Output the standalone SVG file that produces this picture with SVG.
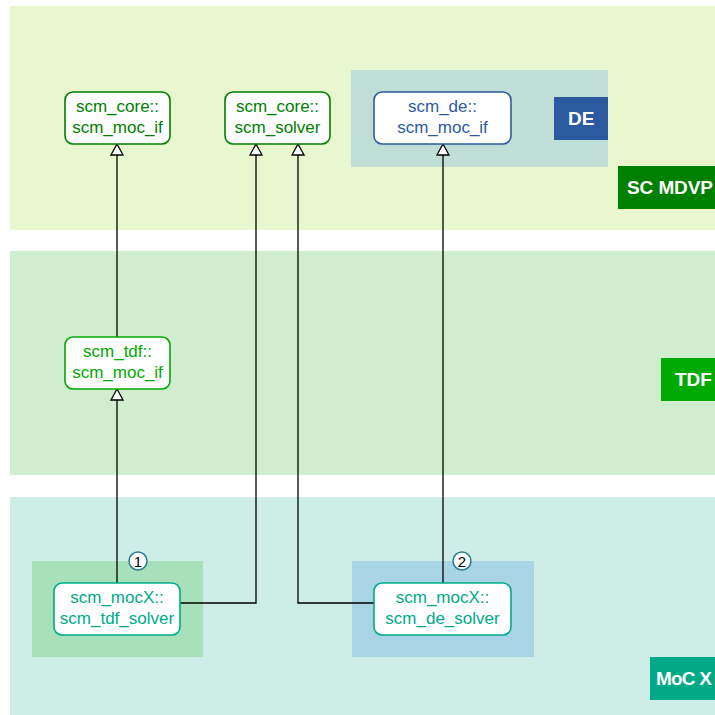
<svg xmlns="http://www.w3.org/2000/svg" width="715" height="715" viewBox="0 0 715 715">
<defs>
<style>
.t{font-family:"Liberation Sans",Arial,sans-serif;font-size:17px;text-anchor:middle}
.lbl{font-family:"Liberation Sans",Arial,sans-serif;font-size:19px;font-weight:bold;fill:#fff}
.node{fill:#fff;stroke-width:1.6}
.c{fill:none;stroke:#000;stroke-width:1.3}
.badge circle{fill:#fff;stroke:#2c7f99;stroke-width:1.5}
.badge text{font-family:"Liberation Sans",Arial,sans-serif;font-size:15px;fill:#000;text-anchor:middle}
</style>
<marker id="tri" markerWidth="14" markerHeight="14" refX="12.5" refY="7" orient="auto" markerUnits="userSpaceOnUse" viewBox="0 0 14 14">
<path d="M12.5,7 L1.5,13 L1.5,1 Z" fill="#fff" stroke="#000" stroke-width="1.3"/>
</marker>
</defs>
<rect width="715" height="715" fill="#fff"/>
<g id="bands">
<rect x="10" y="6" width="705" height="224" fill="#e8f7cd"/>
<rect x="10" y="251" width="705" height="224" fill="#d0edd0"/>
<rect x="10" y="497" width="705" height="218" fill="#cdeee6"/>
<rect x="351" y="70" width="257" height="97" fill="#bfded5"/>
<rect x="32" y="561" width="171" height="96" fill="#a8e0bc"/>
<rect x="352" y="561" width="182" height="96" fill="#a8d4e6"/>
</g>
<g id="labels">
<rect x="554" y="97" width="54" height="43" fill="#2c5aa0"/>
<text class="lbl" x="568" y="125">DE</text>
<rect x="618" y="166" width="97" height="43" fill="#008000"/>
<text class="lbl" x="627" y="194" textLength="86">SC MDVP</text>
<rect x="661" y="358" width="54" height="43" fill="#00aa00"/>
<text class="lbl" x="675" y="386">TDF</text>
<rect x="650" y="657" width="65" height="43" fill="#00aa88"/>
<text class="lbl" x="656" y="685" textLength="56">MoC X</text>
</g>
<g id="connectors">
<path class="c" d="M117,583 V389" marker-end="url(#tri)"/>
<path class="c" d="M117,337 V144" marker-end="url(#tri)"/>
<path class="c" d="M180,603 H256 V144" marker-end="url(#tri)"/>
<path class="c" d="M374,603 H298 V144" marker-end="url(#tri)"/>
<path class="c" d="M443,583 V144" marker-end="url(#tri)"/>
</g>
<g id="n-core-moc-if">
<rect class="node" x="65" y="92" width="105" height="52" rx="8" stroke="#008000"/>
<text class="t" fill="#008000"><tspan x="117.5" y="112">scm_core::</tspan><tspan x="117.5" y="133">scm_moc_if</tspan></text>
</g>
<g id="n-core-solver">
<rect class="node" x="225" y="92" width="105" height="52" rx="8" stroke="#008000"/>
<text class="t" fill="#008000"><tspan x="277.5" y="112">scm_core::</tspan><tspan x="277.5" y="133">scm_solver</tspan></text>
</g>
<g id="n-de-moc-if">
<rect class="node" x="374" y="92" width="137" height="52" rx="8" stroke="#2c5aa0"/>
<text class="t" fill="#2c5aa0"><tspan x="442.5" y="112">scm_de::</tspan><tspan x="442.5" y="133">scm_moc_if</tspan></text>
</g>
<g id="n-tdf-moc-if">
<rect class="node" x="65" y="337" width="105" height="52" rx="8" stroke="#00aa00"/>
<text class="t" fill="#00aa00"><tspan x="117.5" y="357">scm_tdf::</tspan><tspan x="117.5" y="378">scm_moc_if</tspan></text>
</g>
<g id="n-tdf-solver">
<rect class="node" x="54" y="583" width="126" height="52" rx="8" stroke="#00aa88"/>
<text class="t" fill="#00aa88"><tspan x="117" y="603">scm_mocX::</tspan><tspan x="117" y="624">scm_tdf_solver</tspan></text>
</g>
<g id="n-de-solver">
<rect class="node" x="374" y="583" width="137" height="52" rx="8" stroke="#00aa88"/>
<text class="t" fill="#00aa88"><tspan x="442.5" y="603">scm_mocX::</tspan><tspan x="442.5" y="624">scm_de_solver</tspan></text>
</g>
<g id="badge1" class="badge">
<circle cx="138" cy="561" r="9"/>
<text x="138" y="566.5">1</text>
</g>
<g id="badge2" class="badge">
<circle cx="462" cy="561" r="9"/>
<text x="462" y="566.5">2</text>
</g>
</svg>
